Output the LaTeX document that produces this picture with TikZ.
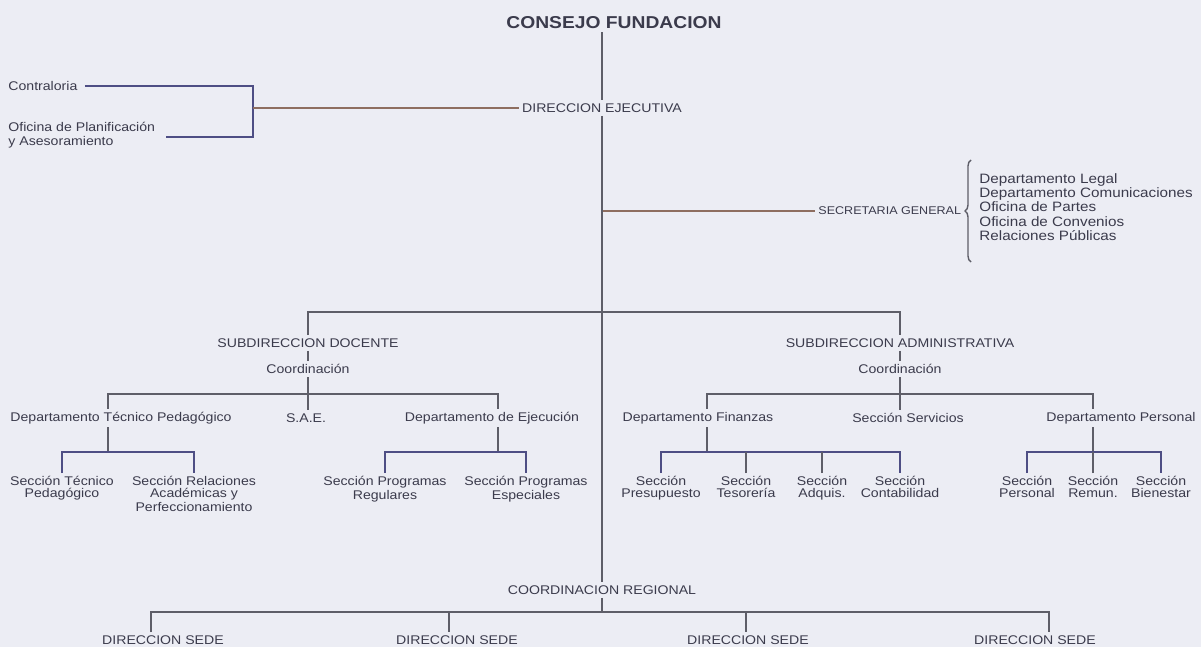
\documentclass[tikz,border=0pt]{standalone}
\usepackage{fontspec}
\setmainfont{Liberation Sans}[FakeStretch=1.12]
\usetikzlibrary{decorations.pathreplacing}
\definecolor{paper}{HTML}{ECEDF4}
\definecolor{ink}{HTML}{3B3B4C}
\definecolor{wire}{HTML}{5E5E68}
\definecolor{rust}{HTML}{8E6E60}
\definecolor{navy}{HTML}{4E4E84}

\begin{document}
\begin{tikzpicture}[x=0.5pt,y=-0.5pt,
box/.style={font=\fontsize{6.3}{6}\selectfont, text=ink, inner sep=1.5pt},
tall/.style={box, align=center, anchor=north, font=\fontsize{6.3}{5.8}\selectfont},
head/.style={font=\fontsize{8.6}{9}\selectfont\bfseries, text=ink, inner sep=1.5pt},
link/.style={draw=wire, line width=0.7pt},
]
\fill[paper] (0,0) rectangle (1201,647);
\useasboundingbox (0,0) rectangle (1201,647);

\coordinate (hT) at (0,312);
\coordinate (hB) at (0,394);
\coordinate (hA) at (0,452);
\coordinate (hR) at (0,612);

% top
\node[head] (cf) at (614,23) {CONSEJO FUNDACION};
\node[box] (de) at (602,108) {DIRECCION EJECUTIVA};
\node[box,anchor=west] (contr) at (5,86) {Contraloria};
\node[box,anchor=west,align=left,font=\fontsize{6.3}{7}\selectfont] (ofp) at (5,135)
{Oficina de Planificación\\y Asesoramiento};
\coordinate (bkT) at (253,86);
\coordinate (bkB) at (253,137);
\draw[link,draw=navy] ([xshift=2pt]contr.east) -- (bkT) -- (bkB) -- ([xshift=4pt]ofp.east |- bkB);
\draw[link,draw=rust] (bkT |- de) -- (de);
\draw[link] (cf.south -| de) -- (de);

\node[box,anchor=west,font=\fontsize{5.6}{6}\selectfont] (sg) at (815,211) {SECRETARIA GENERAL};
\node[box,anchor=west,align=left,font=\fontsize{6.8}{7.1}\selectfont] (sgl) at (976,207)
{Departamento Legal\\Departamento Comunicaciones\\Oficina de Partes\\Oficina de Convenios\\Relaciones Públicas};
\draw[link,draw=rust] (de |- sg) -- (sg);
\draw[link,decorate,decoration={brace,amplitude=3pt}] (971,262) -- (971,160);

% subdirecciones
\node[box] (sd) at (308,343) {SUBDIRECCION DOCENTE};
\node[box] (sa) at (900,343) {SUBDIRECCION ADMINISTRATIVA};
\node[box] (cd) at (308,369) {Coordinación};
\node[box] (ca) at (900,369) {Coordinación};
\draw[link] (sd) -- (sd |- hT) -- (sa |- hT) -- (sa);
\draw[link] (sd) -- (cd);
\draw[link] (sa) -- (ca);

\node[box] (dtp) at (121,418) {Departamento Técnico Pedagógico};
\node[box] (sae) at (306,418) {S.A.E.};
\node[box] (dej) at (492,418) {Departamento de Ejecución};
\node[box] (dfi) at (698,418) {Departamento Finanzas};
\node[box] (sse) at (908,418) {Sección Servicios};
\node[box] (dpe) at (1121,418) {Departamento Personal};
\coordinate (d1) at (108,394);
\coordinate (d3) at (498,394);
\coordinate (d4) at (707,394);
\coordinate (d6) at (1093,394);
\draw[link] (dtp.north -| d1) -- (d1) -- (d3) -- (dej.north -| d3);
\draw[link] (cd) -- (sae.north -| cd);
\draw[link] (dfi.north -| d4) -- (d4) -- (d6) -- (dpe.north -| d6);
\draw[link] (ca) -- (sse.north -| ca);

% secciones
\node[tall] (stp) at (62,473) {Sección Técnico\\Pedagógico};
\node[tall] (srap) at (194,473) {Sección Relaciones\\Académicas y\\Perfeccionamiento};
\node[tall] (spr) at (385,473) {Sección Programas\\Regulares};
\node[tall] (spe) at (526,473) {Sección Programas\\Especiales};
\node[tall] (spre) at (661,473) {Sección\\Presupuesto};
\node[tall] (stes) at (746,473) {Sección\\Tesorería};
\node[tall] (sadq) at (822,473) {Sección\\Adquis.};
\node[tall] (scon) at (900,473) {Sección\\Contabilidad};
\node[tall] (spers) at (1027,473) {Sección\\Personal};
\node[tall] (srem) at (1093,473) {Sección\\Remun.};
\node[tall] (sbien) at (1161,473) {Sección\\Bienestar};

\draw[link] (dtp.south -| d1) -- (d1 |- hA);
\draw[link,draw=navy] (stp.north) -- (stp.north |- hA) -- (srap.north |- hA) -- (srap.north);
\draw[link] (dej.south -| d3) -- (d3 |- hA);
\draw[link,draw=navy] (spr.north) -- (spr.north |- hA) -- (spe.north |- hA) -- (spe.north);
\draw[link] (dfi.south -| d4) -- (d4 |- hA);
\draw[link,draw=navy] (spre.north) -- (spre.north |- hA) -- (scon.north |- hA) -- (scon.north);
\draw[link] (stes.north) -- (stes.north |- hA);
\draw[link] (sadq.north) -- (sadq.north |- hA);
\draw[link] (dpe.south -| d6) -- (d6 |- hA);
\draw[link,draw=navy] (spers.north) -- (spers.north |- hA) -- (sbien.north |- hA) -- (sbien.north);
\draw[link] (srem.north) -- (srem.north |- hA);

% regional
\node[box] (cr) at (602,590) {COORDINACION REGIONAL};
\draw[link] (de) -- (cr);
\node[box] (ds1) at (163,640) {DIRECCION SEDE};
\node[box] (ds2) at (457,640) {DIRECCION SEDE};
\node[box] (ds3) at (748,640) {DIRECCION SEDE};
\node[box] (ds4) at (1035,640) {DIRECCION SEDE};
\coordinate (r1) at (151,612);
\coordinate (r2) at (449,612);
\coordinate (r3) at (746,612);
\coordinate (r4) at (1049,612);
\draw[link] (cr) -- (cr |- hR);
\draw[link] (ds1.north -| r1) -- (r1) -- (r4) -- (ds4.north -| r4);
\draw[link] (r2) -- (ds2.north -| r2);
\draw[link] (r3) -- (ds3.north -| r3);
\end{tikzpicture}
\end{document}
